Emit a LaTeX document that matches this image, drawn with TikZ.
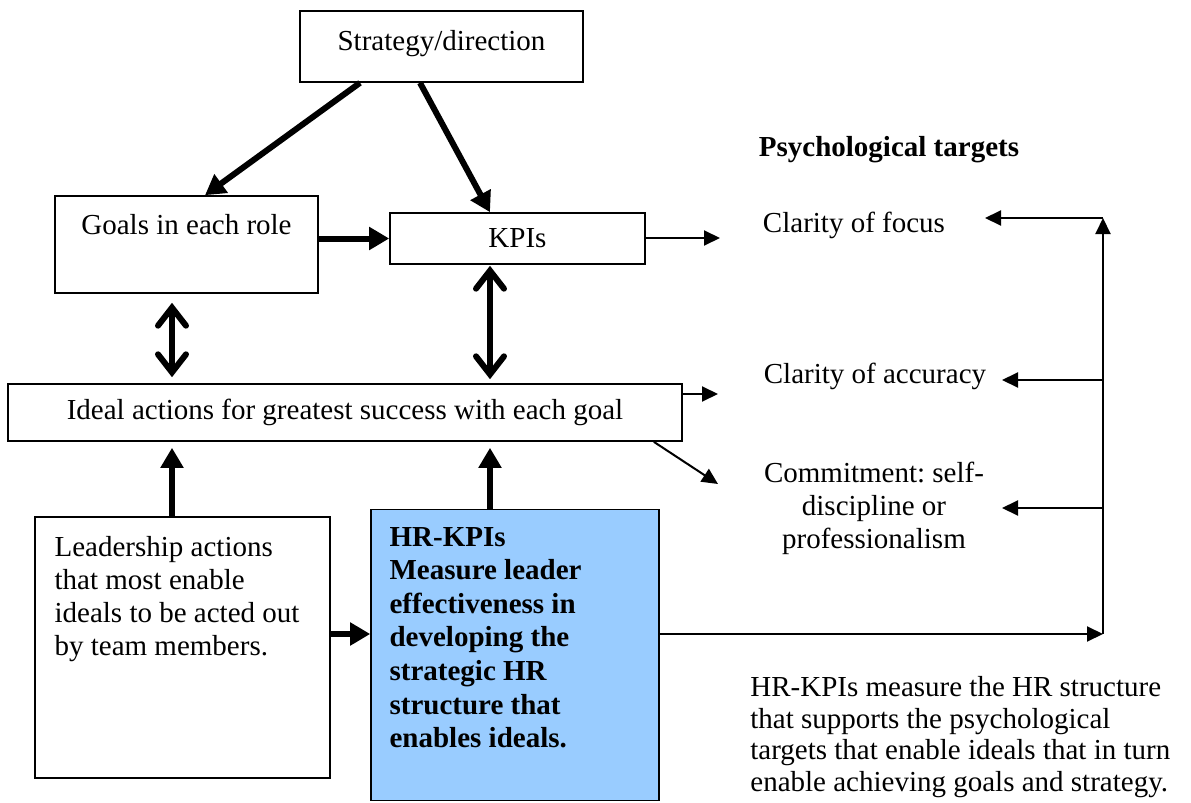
\documentclass[tikz,border=0pt]{standalone}
\usepackage{fontspec}
\setmainfont{Liberation Serif}
\usepackage{xcolor}
\usepackage{tikz}
\usetikzlibrary{calc, positioning, arrows.meta}
\definecolor{HRBlue}{HTML}{99CCFF}

\begin{document}
\begin{tikzpicture}[
  x=0.5pt, y=-0.5pt,
  every node/.style={font=\fontsize{14.5pt}{16.5pt}\selectfont},
  box/.style={rectangle, draw=black, line width=0.8pt, fill=white, inner sep=0pt, align=center},
  thickarrow/.style={-{Triangle[length=10pt, width=11pt]}, line width=3pt},
  dblarrow/.style={{Straight Barb[length=9pt, width=14pt, line cap=round]}-{Straight Barb[length=9pt, width=14pt, line cap=round]}, line width=3pt},
  thinarrow/.style={-{Triangle[length=8pt, width=7.5pt]}, line width=1pt},
  boxtext/.style={anchor=north west, align=left, inner sep=0pt}
]
  \fill[white] (0,0) rectangle (1191,803);
  \useasboundingbox (0,0) rectangle (1191,803);

  \node[box, minimum width=141.5pt, minimum height=35.5pt, text depth=6.5pt] (strat) at (441.5,46.5) {Strategy/direction};
  \node[box, minimum width=131.5pt, minimum height=48.5pt, text depth=20pt] (goals) at (186.5,244.5) {Goals in each role};
  \node[box, minimum width=127.5pt, minimum height=25.5pt] (kpi) at (517.5,238.5) {KPIs};
  \node[box, minimum width=337pt, minimum height=28.5pt] (ideal) at (345,412.5) {Ideal actions for greatest success with each goal};
  \node[box, minimum width=147.5pt, minimum height=130.5pt,
    label={[boxtext, xshift=10pt, yshift=-10pt]north west:Leadership actions\\that most enable\\ideals to be acted out\\by team members.}] (lead) at (182.5,647.5) {};
  \node[box, fill=HRBlue, minimum width=144pt, minimum height=145.5pt,
    label={[boxtext, font=\fontsize{14.5pt}{16.8pt}\selectfont\bfseries, xshift=9.5pt, yshift=-9pt]north west:HR-KPIs\\Measure leader\\effectiveness in\\developing the\\strategic HR\\structure that\\enables ideals.}] (hr) at (515,655) {};

  \node[font=\fontsize{14.5pt}{16.5pt}\selectfont\bfseries] (psych) at (889,150) {Psychological targets};
  \node (focus) at (854,225) {Clarity of focus};
  \node (accuracy) at (875,376) {Clarity of accuracy};
  \node[align=center] (commit) at (874,508) {Commitment:\ self-\\discipline or\\professionalism};
  \node[anchor=west, align=left, inner sep=0pt, font=\fontsize{14.5pt}{15.8pt}\selectfont] (note) at (750,737)
    {HR-KPIs measure the HR structure\\that supports the psychological\\targets that enable ideals that in turn\\enable achieving goals and strategy.};

  \coordinate (colA) at (172,0);
  \coordinate (colB) at (490,0);
  \coordinate (rowC) at (0,634);
  \coordinate (focusin) at (720,238);
  \coordinate (accin) at (718,394);
  \coordinate (comin) at (718,484);
  \coordinate (busbot) at (1103,634);
  \coordinate (bustop) at (1103,218);
  \coordinate (focusback) at (985,218);
  \coordinate (accback) at (1002,380);
  \coordinate (comback) at (1002,508);

  \draw[thickarrow] ([xshift=-40.75pt]strat.south) -- ([xshift=9.25pt]goals.north);
  \draw[thickarrow] ([xshift=-10.75pt]strat.south) -- ([xshift=-13.75pt]kpi.north);
  \draw[thickarrow] (goals.east |- kpi) -- (kpi.west);
  \draw[dblarrow, shorten <=4.5pt, shorten >=3pt] (goals.south -| colA) -- (ideal.north -| colA);
  \draw[dblarrow, shorten <=0.5pt, shorten >=2pt] (kpi.south -| colB) -- (ideal.north -| colB);
  \draw[thickarrow, shorten >=3pt] (lead.north -| colA) -- (ideal.south -| colA);
  \draw[thickarrow, shorten >=3pt] (hr.north -| colB) -- (ideal.south -| colB);
  \draw[thickarrow] (lead.east |- rowC) -- (hr.west |- rowC);

  \draw[thinarrow] (kpi.east |- focusin) -- (focusin);
  \draw[thinarrow] (ideal.east |- accin) -- (accin);
  \draw[thinarrow] ([xshift=-14.5pt]ideal.south east) -- (comin);
  \draw[thinarrow] (hr.east |- rowC) -- (busbot);
  \draw[thinarrow] (busbot) -- (bustop);
  \draw[thinarrow] (bustop) -- (focusback);
  \draw[thinarrow] (accback -| bustop) -- (accback);
  \draw[thinarrow] (comback -| bustop) -- (comback);
\end{tikzpicture}
\end{document}
